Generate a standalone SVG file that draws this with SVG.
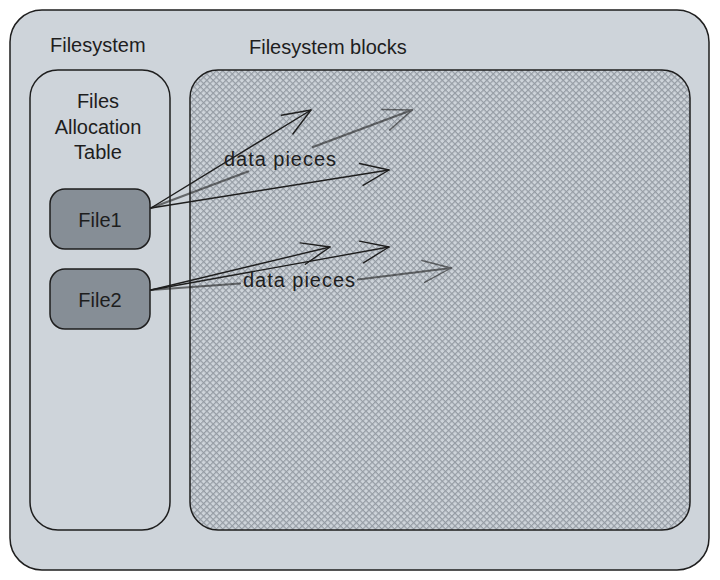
<svg xmlns="http://www.w3.org/2000/svg" width="720" height="580" viewBox="0 0 720 580">
  <style>
    .box { stroke: #1e1e1e; stroke-width: 1.5; }
    .txt { font-family: "Liberation Sans", Arial, sans-serif; font-size: 20px; fill: #1e1e1e; }
    .mid { text-anchor: middle; }
    .arrow { fill: none; stroke: #1e1e1e; stroke-width: 1.4; stroke-linecap: round; }
    .faded { opacity: 0.6; }
    .faded .arrow { stroke-width: 2.2; }
  </style>
  <defs>
    <pattern id="xhatch" patternUnits="userSpaceOnUse" width="4.5" height="4.5" patternTransform="rotate(45)">
      <rect width="4.5" height="4.5" fill="#ced4da"/>
      <line x1="0" y1="0.6" x2="4.5" y2="0.6" stroke="#959ca4" stroke-width="1.2"/>
      <line x1="0.6" y1="0" x2="0.6" y2="4.5" stroke="#959ca4" stroke-width="1.2"/>
    </pattern>
    <marker id="head" markerUnits="userSpaceOnUse" markerWidth="40" markerHeight="40" refX="0" refY="0" orient="auto" overflow="visible">
      <path d="M-28,-11 L0,0 L-28,11" fill="none" stroke="#1e1e1e" stroke-width="1.4" stroke-linecap="round" stroke-linejoin="round"/>
    </marker>
  </defs>
  <rect width="720" height="580" fill="#ffffff"/>

  <g id="filesystem">
    <rect class="box" x="10" y="10" width="699" height="560" rx="32" ry="32" fill="#ced4da"/>
    <text class="txt" x="50" y="52">Filesystem</text>
  </g>

  <g id="fat">
    <rect class="box" x="30" y="70" width="140" height="460" rx="28" ry="28" fill="#ced4da"/>
    <text class="txt mid" x="98" y="108">Files</text>
    <text class="txt mid" x="98" y="134">Allocation</text>
    <text class="txt mid" x="98" y="159">Table</text>
  </g>

  <g id="blocks">
    <rect class="box" x="190" y="70" width="500" height="460" rx="28" ry="28" fill="url(#xhatch)"/>
    <text class="txt" x="249" y="54">Filesystem blocks</text>
  </g>

  <g id="file1">
    <rect class="box" x="50" y="189" width="100" height="60" rx="15" ry="15" fill="#868e96"/>
    <text class="txt mid" x="100" y="227">File1</text>
  </g>

  <g id="file2">
    <rect class="box" x="50" y="269" width="100" height="60" rx="15" ry="15" fill="#868e96"/>
    <text class="txt mid" x="100" y="307">File2</text>
  </g>

  <g id="connectors">
    <path class="arrow" d="M151,208 L311,110" marker-end="url(#head)"/>
    <path class="arrow" d="M151,208 L389,170" marker-end="url(#head)"/>
    <g class="faded">
      <path class="arrow" d="M151,208 L248,171.5"/>
      <path class="arrow" d="M313,147 L412,110" marker-end="url(#head)"/>
    </g>
    <text class="txt mid" x="280" y="166" textLength="112" lengthAdjust="spacing">data pieces</text>

    <path class="arrow" d="M151,290 L330,247" marker-end="url(#head)"/>
    <path class="arrow" d="M151,290 L389,247" marker-end="url(#head)"/>
    <g class="faded">
      <path class="arrow" d="M151,290 L240,283.5"/>
      <path class="arrow" d="M358,279.5 L451,268" marker-end="url(#head)"/>
    </g>
    <text class="txt mid" x="299" y="287" textLength="112" lengthAdjust="spacing">data pieces</text>
  </g>
</svg>
